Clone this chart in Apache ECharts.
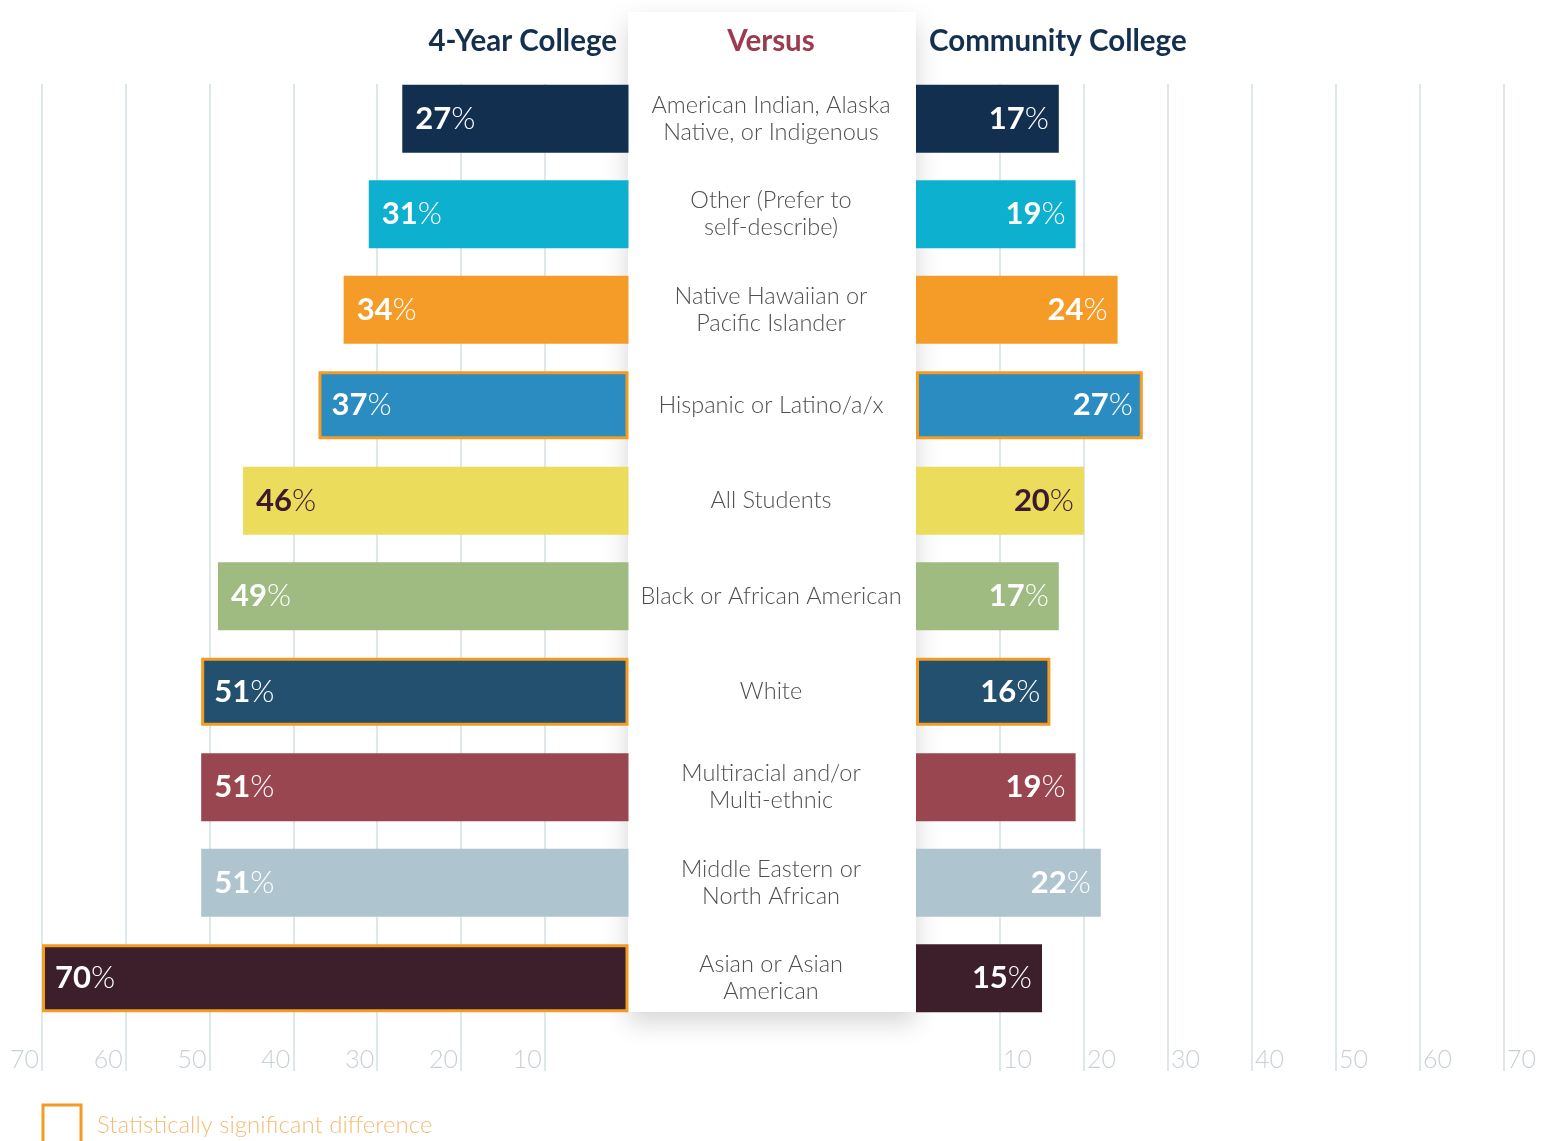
<!DOCTYPE html>
<html>
<head>
<meta charset="utf-8">
<script src="https://cdn.jsdelivr.net/npm/echarts@6/dist/echarts.min.js"></script>
<style>
  html, body { margin: 0; padding: 0; background: #fff; }
  #main { width: 1552px; height: 1141px; }
</style>
</head>
<body>
<div id="main"></div>
<script>
var categories = [
  'American Indian, Alaska\nNative, or Indigenous',
  'Other (Prefer to\nself-describe)',
  'Native Hawaiian or\nPacific Islander',
  'Hispanic or Latino/a/x',
  'All Students',
  'Black or African American',
  'White',
  'Multiracial and/or\nMulti-ethnic',
  'Middle Eastern or\nNorth African',
  'Asian or Asian\nAmerican'
];
var fourYear = [27, 31, 34, 37, 46, 49, 51, 51, 51, 70];
var community = [17, 19, 24, 27, 20, 17, 16, 19, 22, 15];
// 1 = statistically significant difference (orange outline)
var sigFourYear = [0, 0, 0, 1, 0, 0, 1, 0, 0, 1];
var sigCommunity = [0, 0, 0, 1, 0, 0, 1, 0, 0, 0];
var barColors = ['#132f4f', '#0db0cf', '#f59c28', '#2a8cc0', '#ebdc5c',
                 '#9fbb82', '#24506f', '#9a4650', '#aec4ce', '#3c1f2b'];
var tickValues = [10, 20, 30, 40, 50, 60, 70];

var ORANGE = '#f39c23';
var FONT = 'Lato, "Noto Sans", sans-serif';

function buildData(values, sig) {
  return values.map(function (v, i) {
    var dark = i === 4;
    return {
      value: v,
      itemStyle: {
        color: barColors[i],
        borderColor: sig[i] ? ORANGE : barColors[i],
        borderWidth: sig[i] ? 3 : 0
      },
      label: {
        rich: {
          b: { fontSize: 31, fontWeight: 'bold', color: dark ? '#3a1a2c' : '#fff', fontFamily: FONT },
          p: { fontSize: 31, fontWeight: 300, color: dark ? '#3a1a2c' : '#fff', fontFamily: FONT }
        }
      }
    };
  });
}

function pctLabel(p) { return '{b|' + p.value + '}{p|%}'; }

var gridTop = 71, gridBottom = 1141 - 1026;

var axisTickStyle = { show: true, length: 45, lineStyle: { color: '#d3dfe2', width: 1.5 }, customValues: tickValues };
var splitStyle = { show: true, lineStyle: { color: '#d3dfe2', width: 1.5 } };
var tickLabelStyle = { color: '#c7d0d4', fontSize: 25, fontWeight: 300, fontFamily: FONT };

var option = {
  backgroundColor: '#fff',
  animation: false,
  grid: [
    { left: 42, width: 586.5, top: gridTop, bottom: gridBottom },
    { left: 916, width: 588, top: gridTop, bottom: gridBottom }
  ],
  xAxis: [
    {
      gridIndex: 0, type: 'value', inverse: true, min: 0, max: 70, interval: 10,
      axisLine: { show: false },
      axisTick: axisTickStyle,
      splitLine: splitStyle,
      axisLabel: Object.assign({ customValues: tickValues, margin: 21, align: 'right', padding: [0, 3, 0, 0] }, tickLabelStyle)
    },
    {
      gridIndex: 1, type: 'value', min: 0, max: 70, interval: 10,
      axisLine: { show: false },
      axisTick: axisTickStyle,
      splitLine: splitStyle,
      axisLabel: Object.assign({ customValues: tickValues, margin: 21, align: 'left', padding: [0, 0, 0, 3] }, tickLabelStyle)
    }
  ],
  yAxis: [
    {
      gridIndex: 0, type: 'category', inverse: true, data: categories,
      axisLine: { show: false }, axisTick: { show: false }, axisLabel: { show: false }
    },
    {
      gridIndex: 1, type: 'category', inverse: true, data: categories, position: 'left', z: 5,
      axisLine: { show: false }, axisTick: { show: false },
      axisLabel: {
        margin: 145, align: 'center', color: '#4f4f4f', fontSize: 23.5, lineHeight: 27,
        fontWeight: 300, fontFamily: FONT
      }
    }
  ],
  graphic: [
    // keeps the grid lines starting at the top of the first bar
    {
      type: 'rect', z: 1, silent: true,
      shape: { x: 0, y: 60, width: 1552, height: 24 },
      style: { fill: '#fff' }
    },
    {
      type: 'rect', z: 1, silent: true,
      shape: { x: 628, y: 12, width: 288, height: 1000 },
      style: { fill: '#fff', shadowBlur: 24, shadowOffsetY: 10, shadowColor: 'rgba(0,0,0,0.17)' }
    },
    {
      type: 'text', z: 10, x: 617, y: 41,
      style: { text: '4-Year College', align: 'right', verticalAlign: 'middle', fill: '#15304f',
               fontSize: 29.5, fontWeight: 'bold', fontFamily: FONT }
    },
    {
      type: 'text', z: 10, x: 771, y: 41,
      style: { text: 'Versus', align: 'center', verticalAlign: 'middle', fill: '#9a3b50',
               fontSize: 29.5, fontWeight: 'bold', fontFamily: FONT }
    },
    {
      type: 'text', z: 10, x: 929, y: 41,
      style: { text: 'Community College', align: 'left', verticalAlign: 'middle', fill: '#15304f',
               fontSize: 29.5, fontWeight: 'bold', fontFamily: FONT }
    },
    {
      type: 'rect', z: 10, silent: true,
      shape: { x: 43, y: 1105, width: 38, height: 40 },
      style: { fill: 'none', stroke: ORANGE, lineWidth: 3 }
    },
    {
      type: 'text', z: 10, x: 97, y: 1125,
      style: { text: 'Statistically significant difference', align: 'left', verticalAlign: 'middle',
               fill: '#f5bb74', fontSize: 24, fontWeight: 300, fontFamily: FONT }
    }
  ],
  series: [
    {
      type: 'bar', xAxisIndex: 0, yAxisIndex: 0, barWidth: 68, z: 3,
      data: buildData(fourYear, sigFourYear),
      label: { show: true, position: 'insideLeft', distance: 13, formatter: pctLabel }
    },
    {
      type: 'bar', xAxisIndex: 1, yAxisIndex: 1, barWidth: 68, z: 3,
      data: buildData(community, sigCommunity),
      label: { show: true, position: 'insideRight', distance: 10, formatter: pctLabel }
    }
  ]
};

var chart = echarts.init(document.getElementById('main'));
chart.setOption(option);
</script>
</body>
</html>
